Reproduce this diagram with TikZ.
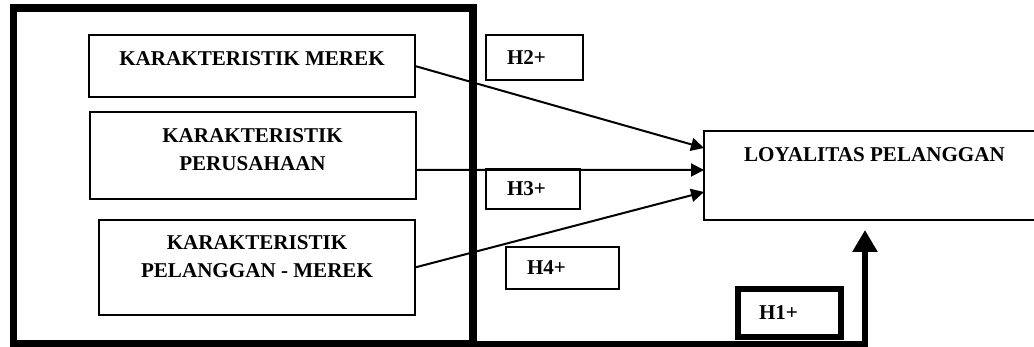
\documentclass[tikz,border=0pt]{standalone}
\usepackage{fontspec}
\setmainfont{Liberation Serif}
\usetikzlibrary{arrows.meta}

\begin{document}
\begin{tikzpicture}[x=0.02cm, y=-0.02cm,
    box/.style={draw=black, line width=0.03cm, rectangle, inner sep=0pt, outer sep=0pt, anchor=north west},
    hbox/.style={draw=black, line width=0.03cm, rectangle, inner xsep=0.42cm, inner ysep=0pt, outer sep=0pt, anchor=north west, align=left, font=\fontsize{12}{14}\selectfont\bfseries},
    txt/.style={align=center, inner sep=0pt, font=\fontsize{12}{15.9}\selectfont\bfseries},
    link_line/.style={line width=0.04cm, -{Triangle[length=0.26cm,width=0.26cm]}},
    main_line/.style={line width=0.11cm, -{Triangle[length=0.44cm,width=0.48cm]}, shorten >=0.2cm}
]
    \useasboundingbox (0,0) rectangle (1034,347);
    \clip (0,0) rectangle (1034,347);

    % Outer frame round the three characteristics
    \node (frame) [box, line width=0.15cm, minimum width=9.19cm, minimum height=6.72cm] at (13.5,8) {};

    % Characteristics
    \node (merek) [box, minimum width=6.52cm, minimum height=1.24cm] at (89,35) {};
    \node (merek_txt) [txt] at (252,59) {KARAKTERISTIK MEREK};
    \node (perusahaan) [box, minimum width=6.52cm, minimum height=1.74cm] at (90,112) {};
    \node (perusahaan_txt) [txt] at (252.5,149.5) {KARAKTERISTIK\\PERUSAHAAN};
    \node (pelanggan) [box, minimum width=6.32cm, minimum height=1.90cm] at (99,220) {};
    \node (pelanggan_txt) [txt] at (257,257) {KARAKTERISTIK\\PELANGGAN - MEREK};

    % Outcome
    \node (loyal) [box, minimum width=6.72cm, minimum height=1.78cm] at (704,131) {};
    \node (loyal_txt) [txt] at (874.5,154.5) {LOYALITAS PELANGGAN};

    % Hypotheses
    \node (h2) [hbox, text width=1.1cm, minimum height=0.9cm] at (486,35) {H2+};
    \node (h3) [hbox, text width=1.04cm, minimum height=0.8cm] at (486,169) {H3+};
    \node (h4) [hbox, text width=1.42cm, minimum height=0.84cm] at (506,247) {H4+};
    \node (h1) [hbox, line width=0.13cm, text width=1.22cm, minimum height=0.96cm] at (738,289) {H1+};

    % Paths
    \draw [link_line] (merek.east) -- ([yshift=0.55cm]loyal.west);
    \draw [link_line] ([yshift=-0.29cm]perusahaan.east) -- ([yshift=0.11cm]loyal.west);
    \draw [link_line] (pelanggan.east) -- ([yshift=-0.33cm]loyal.west);
    \draw [main_line] (frame.south east) -| ([xshift=-0.14cm]loyal.south);
\end{tikzpicture}
\end{document}
